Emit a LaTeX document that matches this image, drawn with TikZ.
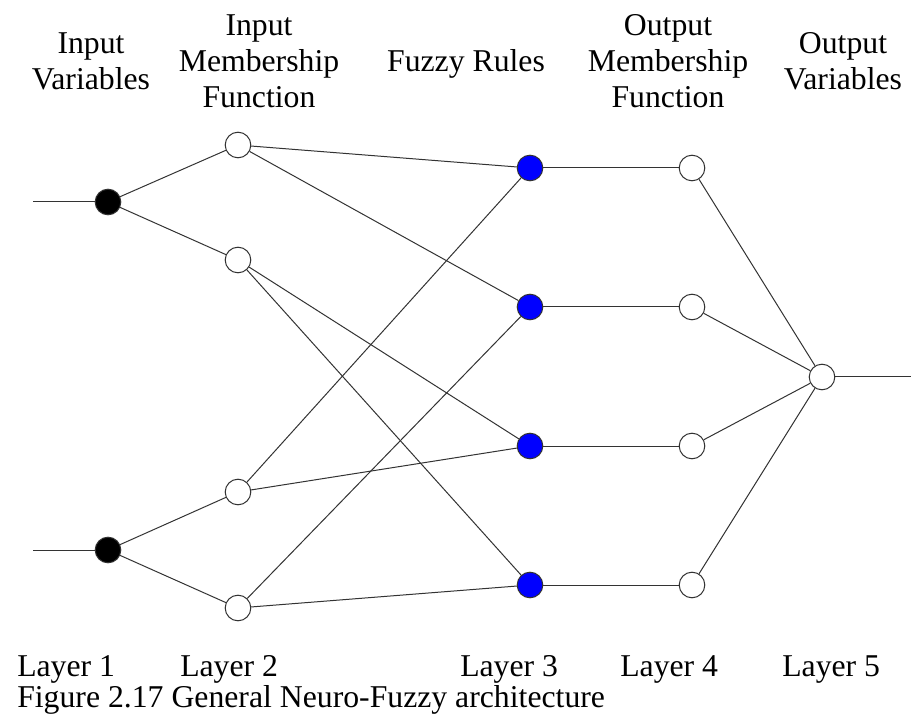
\documentclass[tikz,border=0pt]{standalone}
\usepackage{fontspec}
\setmainfont{Liberation Serif}
\begin{document}
\begin{tikzpicture}[x=0.75pt,y=-0.75pt,
  neuron/.style={circle,draw=black!80,line width=0.75pt,minimum size=19.2pt,inner sep=0pt},
  inneuron/.style={neuron,fill=black},
  mfneuron/.style={neuron,fill=white},
  ruleneuron/.style={neuron,fill=blue},
  link/.style={draw=black!80,line width=0.75pt},
  toplabel/.style={align=center,anchor=base,inner sep=0pt,font=\fontsize{23.8}{27}\selectfont},
  botlabel/.style={anchor=base west,inner sep=0pt,font=\fontsize{23.8}{27}\selectfont}]
\useasboundingbox (0,0) rectangle (911,720);
% top labels (anchor at the baseline of the last line)
\node[toplabel] (t1) at (91,90) {Input\\Variables};
\node[toplabel] (t2) at (259,108) {Input\\Membership\\Function};
\node[toplabel] (t3) at (466,72) {Fuzzy Rules};
\node[toplabel] (t4) at (668,108) {Output\\Membership\\Function};
\node[toplabel] (t5) at (843,90) {Output\\Variables};
% layer 1
\node[inneuron] (a1) at (108,202) {};
\node[inneuron] (a2) at (108,550) {};
\coordinate (x1) at (33,202);
\coordinate (x2) at (33,550);
% layer 2
\node[mfneuron] (b1) at (238,145) {};
\node[mfneuron] (b2) at (238,260) {};
\node[mfneuron] (b3) at (238,492) {};
\node[mfneuron] (b4) at (238,608) {};
% layer 3
\node[ruleneuron] (c1) at (530,168) {};
\node[ruleneuron] (c2) at (530,307) {};
\node[ruleneuron] (c3) at (530,446) {};
\node[ruleneuron] (c4) at (530,585) {};
% layer 4
\node[mfneuron] (d1) at (692,168) {};
\node[mfneuron] (d2) at (692,307) {};
\node[mfneuron] (d3) at (692,446) {};
\node[mfneuron] (d4) at (692,585) {};
% layer 5
\node[mfneuron] (e1) at (822,377) {};
\coordinate (y1) at (911,377);
% connections
\draw[link] (x1) -- (a1);
\draw[link] (x2) -- (a2);
\draw[link] (a1) -- (b1);
\draw[link] (a1) -- (b2);
\draw[link] (a2) -- (b3);
\draw[link] (a2) -- (b4);
\draw[link] (b1) -- (c1);
\draw[link] (b1) -- (c2);
\draw[link] (b2) -- (c3);
\draw[link] (b2) -- (c4);
\draw[link] (b3) -- (c1);
\draw[link] (b3) -- (c3);
\draw[link] (b4) -- (c2);
\draw[link] (b4) -- (c4);
\draw[link] (c1) -- (d1);
\draw[link] (c2) -- (d2);
\draw[link] (c3) -- (d3);
\draw[link] (c4) -- (d4);
\draw[link] (d1) -- (e1);
\draw[link] (d2) -- (e1);
\draw[link] (d3) -- (e1);
\draw[link] (d4) -- (e1);
\draw[link] (e1) -- (y1);
% bottom labels
\node[botlabel] (l1) at (17,676) {Layer 1};
\node[botlabel] (l2) at (180,676) {Layer 2};
\node[botlabel] (l3) at (460,676) {Layer 3};
\node[botlabel] (l4) at (620,676) {Layer 4};
\node[botlabel] (l5) at (782,676) {Layer 5};
\node[botlabel] (cap) at (17,707) {Figure 2.17 General Neuro-Fuzzy architecture};
\end{tikzpicture}
\end{document}
